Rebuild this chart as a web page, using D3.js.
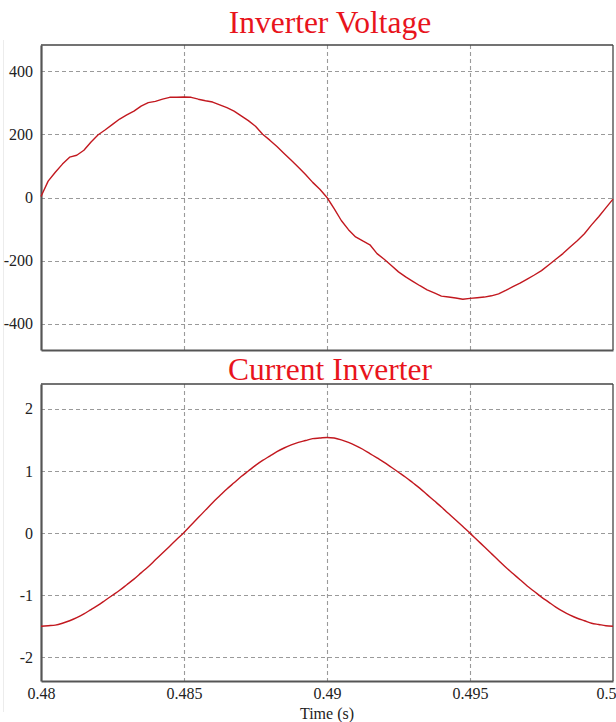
<!DOCTYPE html>
<html>
<head>
<meta charset="utf-8">
<script src="https://cdn.jsdelivr.net/npm/d3@7/dist/d3.min.js"></script>
<style>
  html, body { margin: 0; padding: 0; background: #fff; }
  svg { display: block; }
  text { font-family: "Liberation Serif", "Times New Roman", serif; }
</style>
</head>
<body>
<svg id="chart" width="616" height="722"></svg>
<script>
// Sample times (s), one every 0.25 ms over one 50 Hz cycle
const timeStart = 0.48;
const timeStep = 0.00025;

// Inverter output voltage (V)
const voltage = [
  3, 52, 80, 106, 128, 134, 150, 176, 199, 215,
  232, 249, 262, 274, 290, 301, 305, 312, 318, 318,
  319, 318, 312, 307, 303, 294, 285, 274, 259, 244,
  226, 201, 182, 162, 140, 118, 96, 73, 48, 26,
  0, -35, -73, -102, -125, -138, -150, -178, -196, -216,
  -236, -252, -266, -280, -293, -303, -313, -316, -319, -323,
  -320, -318, -316, -312, -306, -295, -283, -272, -259, -246,
  -232, -214, -196, -178, -157, -137, -115, -87, -61, -33,
  -5
];

// Inverter output current (A)
const current = [
  -1.50, -1.49, -1.48, -1.45, -1.41, -1.36, -1.30, -1.23, -1.16, -1.08,
  -1.00, -0.92, -0.83, -0.74, -0.64, -0.54, -0.43, -0.32, -0.21, -0.10,
  0.01, 0.13, 0.25, 0.37, 0.49, 0.60, 0.71, 0.81, 0.91, 1.00,
  1.09, 1.17, 1.24, 1.31, 1.37, 1.42, 1.46, 1.49, 1.52, 1.53,
  1.54, 1.53, 1.50, 1.46, 1.41, 1.35, 1.28, 1.21, 1.14, 1.06,
  0.98, 0.90, 0.81, 0.72, 0.62, 0.52, 0.42, 0.315, 0.21, 0.105,
  0.00, -0.11, -0.22, -0.33, -0.44, -0.55, -0.65, -0.75, -0.85, -0.94,
  -1.03, -1.11, -1.19, -1.26, -1.32, -1.37, -1.41, -1.45, -1.47, -1.49,
  -1.50
];

const timeTicks = [0.48, 0.485, 0.49, 0.495, 0.5];
const timeTickLabels = ["0.48", "0.485", "0.49", "0.495", "0.5"];
const voltageTicks = [400, 200, 0, -200, -400];
const voltageTickLabels = ["400", "200", "0", "-200", "-400"];
const currentTicks = [2, 1, 0, -1, -2];
const currentTickLabels = ["2", "1", "0", "-1", "-2"];

const titles = ["Inverter Voltage", "Current Inverter"];
const xAxisTitle = "Time (s)";

const times = voltage.map((_, i) => timeStart + i * timeStep);

const svg = d3.select("#chart");
const left = 41, right = 613;

const x = d3.scaleLinear().domain([0.48, 0.5]).range([left, right]);

const panels = [
  { title: titles[0], top: 45, bottom: 350, domain: [-484, 484], ticks: voltageTicks, labels: voltageTickLabels,
    values: voltage, curve: d3.curveLinear, titleY: 33, showX: false },
  { title: titles[1], top: 384, bottom: 681, domain: [-2.38, 2.4], ticks: currentTicks, labels: currentTickLabels,
    values: current, curve: d3.curveMonotoneX, titleY: 380, showX: true }
];

// faint frame line at the left edge
svg.append("line")
  .attr("x1", 3.5).attr("x2", 3.5).attr("y1", 40).attr("y2", 712)
  .attr("stroke", "#ececec").attr("stroke-width", 1);

panels.forEach(p => {
  const y = d3.scaleLinear().domain(p.domain).range([p.bottom, p.top]);
  const g = svg.append("g");

  // dashed grid
  g.append("g").selectAll("line").data(p.ticks).join("line")
    .attr("x1", left).attr("x2", right)
    .attr("y1", d => Math.round(y(d)) + 0.5).attr("y2", d => Math.round(y(d)) + 0.5)
    .attr("stroke", "#9a9a9a").attr("stroke-width", 1.1)
    .attr("stroke-dasharray", "4,3");
  g.append("g").selectAll("line").data(timeTicks.slice(1, -1)).join("line")
    .attr("x1", d => Math.round(x(d)) + 0.5).attr("x2", d => Math.round(x(d)) + 0.5)
    .attr("y1", p.top).attr("y2", p.bottom)
    .attr("stroke", "#9a9a9a").attr("stroke-width", 1.1)
    .attr("stroke-dasharray", "4,3");

  // frame: thin top/right, heavier left/bottom
  g.append("line").attr("x1", left).attr("x2", right).attr("y1", p.top).attr("y2", p.top)
    .attr("stroke", "#444").attr("stroke-width", 1.3);
  g.append("line").attr("x1", right).attr("x2", right).attr("y1", p.top).attr("y2", p.bottom)
    .attr("stroke", "#444").attr("stroke-width", 1.3);

  // y axis
  const yAxis = d3.axisLeft(y).tickValues(p.ticks).tickSize(0).tickPadding(8)
    .tickFormat((d, i) => p.labels[i]);
  const ya = g.append("g").attr("transform", `translate(${left},0)`).call(yAxis);
  ya.select(".domain").attr("stroke", "#555").attr("stroke-width", 2.2);
  ya.selectAll("text").attr("font-size", 16).attr("fill", "#222")
    .attr("font-family", "Liberation Serif, Times New Roman, serif");

  // x axis
  const xAxis = d3.axisBottom(x).tickValues(timeTicks).tickSize(0).tickPadding(7)
    .tickFormat((d, i) => p.showX ? timeTickLabels[i] : "");
  const xa = g.append("g").attr("transform", `translate(0,${p.bottom})`).call(xAxis);
  xa.select(".domain").attr("stroke", "#555").attr("stroke-width", 2.2);
  xa.selectAll("text").attr("font-size", 16).attr("fill", "#222")
    .attr("font-family", "Liberation Serif, Times New Roman, serif");
  // keep the last label inside the page edge
  xa.selectAll(".tick").filter(d => d === 0.5).select("text")
    .attr("text-anchor", "end").attr("dx", 3);

  // waveform
  const line = d3.line()
    .x((d, i) => x(times[i]))
    .y(d => y(d))
    .curve(p.curve);
  g.append("path").datum(p.values)
    .attr("d", line)
    .attr("fill", "none")
    .attr("stroke", "#c2181f")
    .attr("stroke-width", 1.4)
    .attr("stroke-linejoin", "round");

  // title
  svg.append("text")
    .attr("x", 330).attr("y", p.titleY)
    .attr("text-anchor", "middle")
    .attr("font-size", 31.5)
    .attr("fill", "#e8141c")
    .text(p.title);
});

svg.append("text")
  .attr("x", 327).attr("y", 719)
  .attr("text-anchor", "middle")
  .attr("font-size", 16)
  .attr("fill", "#222")
  .text(xAxisTitle);
</script>
</body>
</html>
